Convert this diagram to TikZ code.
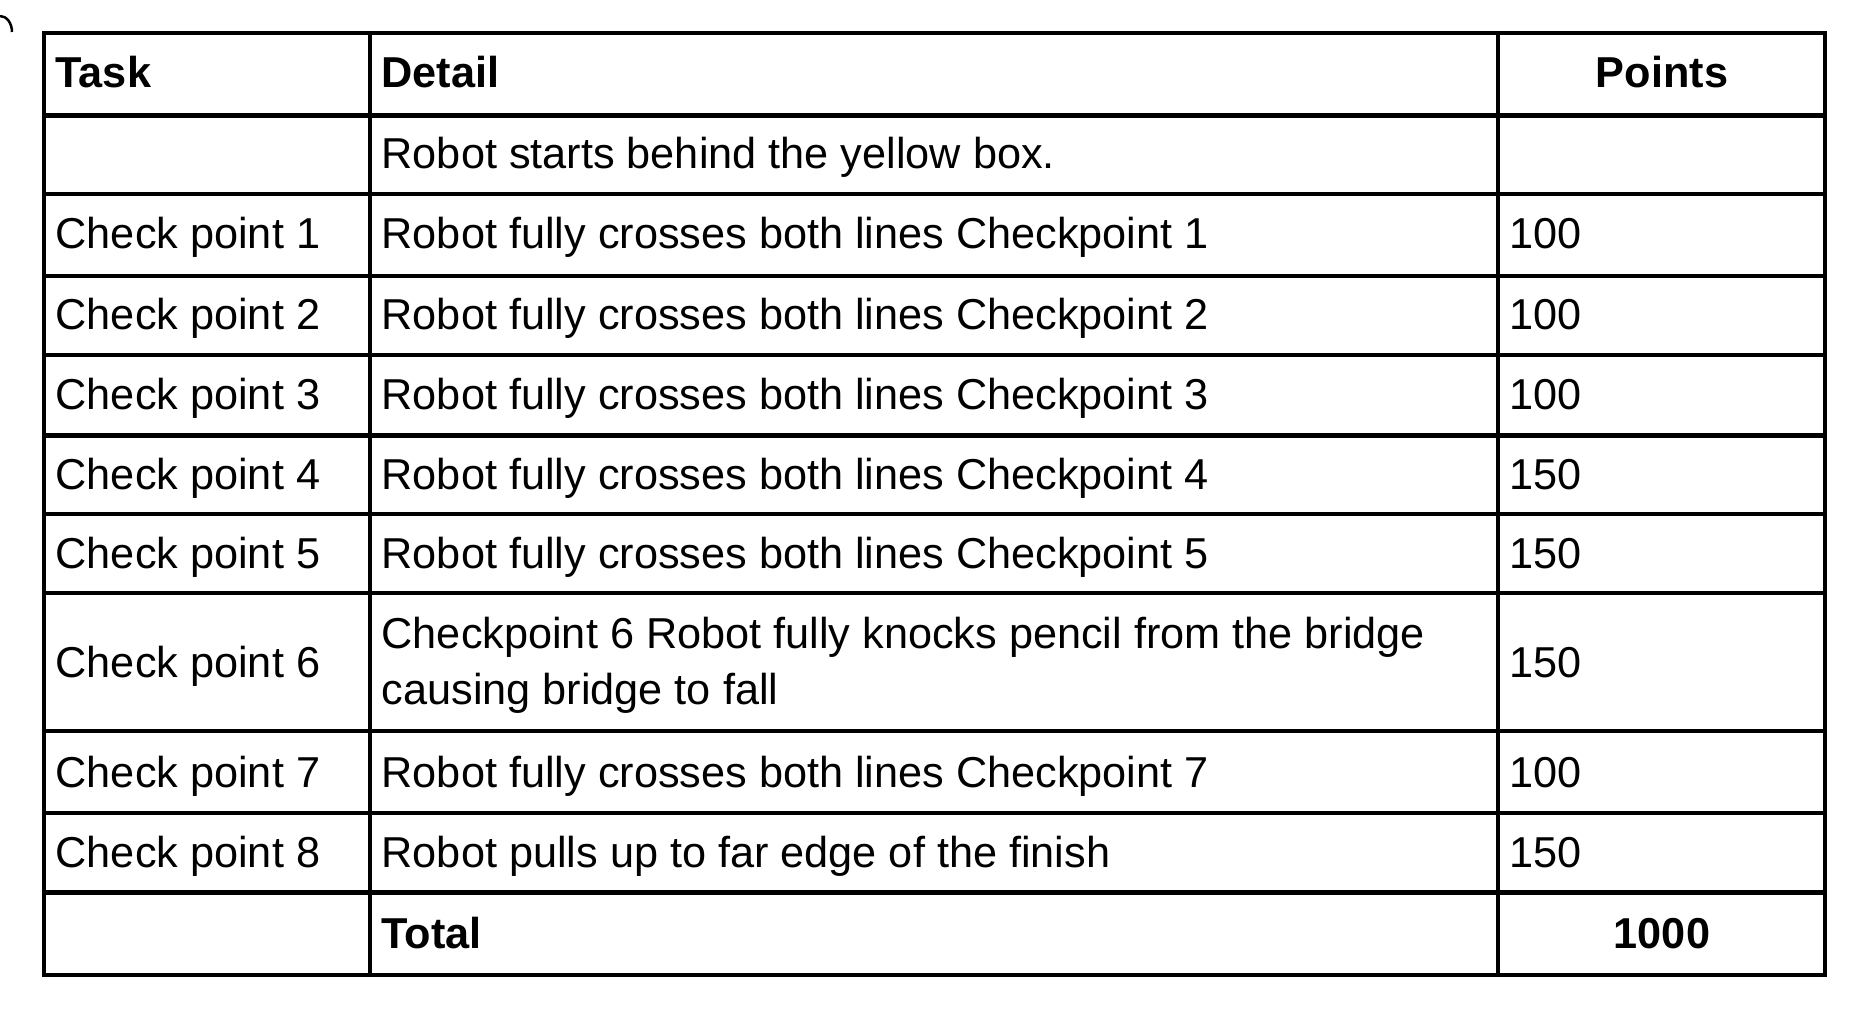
\documentclass[tikz,border=0pt]{standalone}
\usepackage{fontspec}
\setmainfont{Liberation Sans}
\begin{document}
\begin{tikzpicture}[x=0.01cm,y=-0.01cm,
  rule/.style={line width=0.045cm,black},
  cell/.style={anchor=base west,inner sep=0pt,font=\fontsize{12.3}{16}\selectfont},
  hcell/.style={cell,font=\fontsize{12.3}{16}\selectfont\bfseries},
  ccell/.style={anchor=base,inner sep=0pt,font=\fontsize{12.3}{16}\selectfont\bfseries}]
\useasboundingbox (0,0) rectangle (1868,1028);
\draw[line width=0.025cm] (0,16) arc (-90:0:12 and 16);
% grid
\draw[rule] (44,33) rectangle (1825,975);
\foreach \y in {115.5,194,276,355,435.5,514,593,731,813,892.5}
  \draw[rule] (44,\y) -- (1825,\y);
\draw[rule] (370,33) -- (370,975);
\draw[rule] (1498,33) -- (1498,975);
% header
\node[hcell] (h1) at (55,88) {Task};
\node[hcell] (h2) at (381,88) {Detail};
\node[ccell] (h3) at (1662,88) {Points};
\node[cell] (d0) at (381,169) {Robot starts behind the yellow box.};
\foreach \i/\y/\p in {1/249/100,2/330/100,3/410/100,4/490/150,5/569/150,7/788/100}{
  \node[cell] (t\i) at (55,\y) {Check point \i};
  \node[cell] (d\i) at (381,\y) {Robot fully crosses both lines Checkpoint \i};
  \node[cell] (p\i) at (1509,\y) {\p};
}
\node[cell] (t6) at (55,678) {Check point 6};
\node[cell] (d6a) at (381,649) {Checkpoint 6 Robot fully knocks pencil from the bridge};
\node[cell] (d6b) at (381,705) {causing bridge to fall};
\node[cell] (p6) at (1509,678) {150};
\node[cell] (t8) at (55,868) {Check point 8};
\node[cell] (d8) at (381,868) {Robot pulls up to far edge of the finish};
\node[cell] (p8) at (1509,868) {150};
\node[hcell] (tot) at (381,949) {Total};
\node[ccell] (totp) at (1662,949) {1000};
\end{tikzpicture}
\end{document}
